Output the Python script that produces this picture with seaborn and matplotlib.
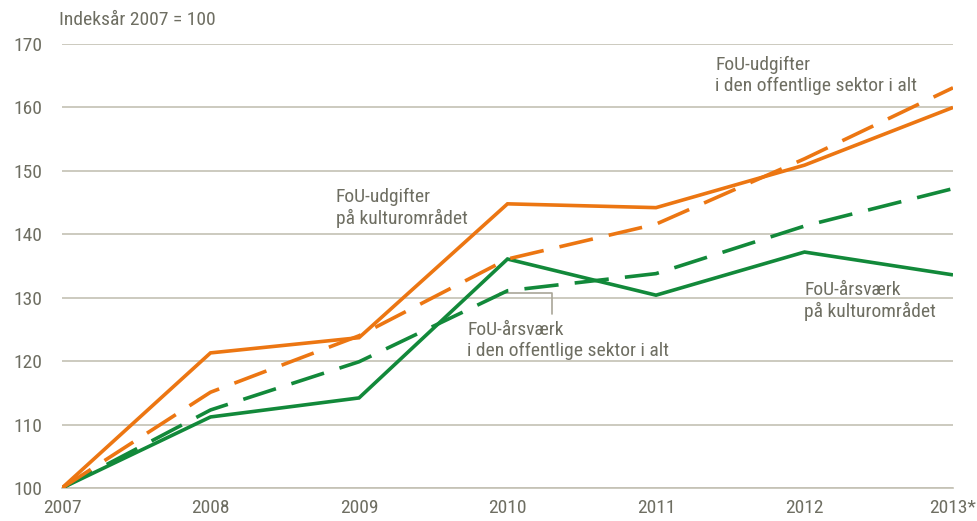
import matplotlib
matplotlib.use("Agg")
import matplotlib.pyplot as plt
import seaborn as sns
import pandas as pd

years = [2007, 2008, 2009, 2010, 2011, 2012, 2013]
year_labels = ["2007", "2008", "2009", "2010", "2011", "2012", "2013*"]
udg_kultur = [100, 121.3, 123.7, 144.8, 144.2, 150.9, 160.0]
udg_offentlig = [100, 115.1, 124.0, 136.1, 141.6, 151.9, 163.1]
aarsv_kultur = [100, 111.2, 114.2, 136.1, 130.4, 137.2, 133.6]
aarsv_offentlig = [100, 112.3, 119.9, 131.1, 133.8, 141.3, 147.2]

series = {
    "FoU-udgifter på kulturområdet": (udg_kultur, "udg", "kultur"),
    "FoU-udgifter i den offentlige sektor i alt": (udg_offentlig, "udg", "off"),
    "FoU-årsværk på kulturområdet": (aarsv_kultur, "aar", "kultur"),
    "FoU-årsværk i den offentlige sektor i alt": (aarsv_offentlig, "aar", "off"),
}
rows = []
for name, (vals, kind, scope) in series.items():
    for y, v in zip(years, vals):
        rows.append({"year": y, "value": v, "kind": kind, "scope": scope, "name": name})
df = pd.DataFrame(rows)

sns.set_style("white")
plt.rcParams["font.family"] = ["Roboto Condensed", "Liberation Sans", "DejaVu Sans"]

TEXT = "#6e6e62"
GRID = "#c4c1b4"
ORANGE = "#ec7612"
GREEN = "#12893a"

fig = plt.figure(figsize=(9.77, 5.21), dpi=100)
ax = fig.add_axes([62 / 977, 1 - 488 / 521, (953 - 62) / 977, (488 - 44) / 521])

sns.lineplot(data=df, x="year", y="value", hue="kind", style="scope",
             palette={"udg": ORANGE, "aar": GREEN},
             dashes={"kultur": "", "off": (9.5, 4.5)},
             hue_order=["aar", "udg"],
             linewidth=2.6, legend=False, ax=ax, zorder=3)
for ln in ax.lines:
    ln.set_solid_capstyle("butt")
    ln.set_dash_capstyle("butt")
    ln.set_solid_joinstyle("miter")

ax.set_xlim(2007, 2013)
ax.set_ylim(100, 170)
ax.set_yticks(range(100, 171, 10))
ax.set_xticks(years)
ax.set_xticklabels(year_labels)
ax.yaxis.grid(True, color=GRID, linewidth=1.2)
ax.xaxis.grid(False)
for s in ["top", "right", "left"]:
    ax.spines[s].set_visible(False)
ax.spines["bottom"].set_color(GRID)
ax.spines["bottom"].set_linewidth(1.2)
fs = 14
ax.tick_params(axis="both", length=0, labelsize=fs, colors=TEXT)
ax.tick_params(axis="y", pad=14)
ax.tick_params(axis="x", pad=8)
ax.set_xlabel("")
ax.set_ylabel("")

ax.text(-0.003, 1.033, "Indeksår 2007 = 100", transform=ax.transAxes,
        fontsize=fs, color=TEXT, ha="left", va="bottom")

ls = 1.2
ax.text(2008.845, 144.2, "FoU-udgifter\npå kulturområdet", fontsize=fs, color=TEXT,
        ha="left", va="center", linespacing=ls)
ax.text(2011.40, 165.1, "FoU-udgifter\ni den offentlige sektor i alt", fontsize=fs, color=TEXT,
        ha="left", va="center", linespacing=ls)
ax.text(2012.0, 129.5, "FoU-årsværk\npå kulturområdet", fontsize=fs, color=TEXT,
        ha="left", va="center", linespacing=ls)
ax.text(2009.73, 123.25, "FoU-årsværk\ni den offentlige sektor i alt", fontsize=fs, color=TEXT,
        ha="left", va="center", linespacing=ls)
ax.plot([2009.95, 2010.30, 2010.30], [130.8, 130.8, 127.4], color="#a9a698",
        linewidth=1.2, zorder=2)

fig.savefig("out.png", dpi=100)
